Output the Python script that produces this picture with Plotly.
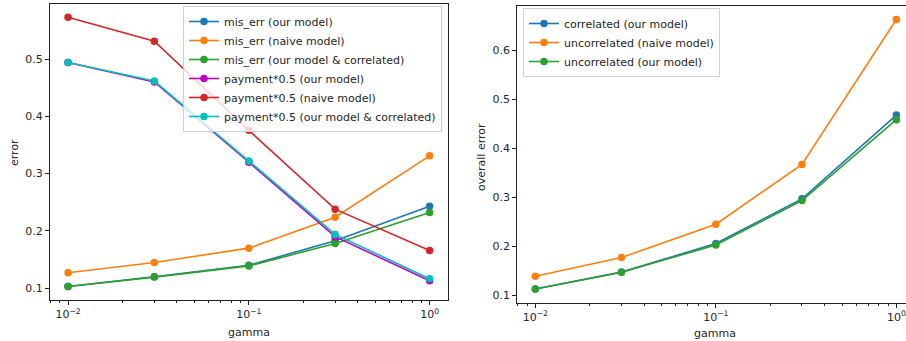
import plotly.graph_objects as go

gamma = [0.01, 0.03, 0.1, 0.3, 1.0]

# left panel
mis_err_our = [0.103, 0.120, 0.140, 0.183, 0.243]
mis_err_naive = [0.127, 0.145, 0.170, 0.224, 0.331]
mis_err_our_corr = [0.103, 0.1195, 0.139, 0.178, 0.232]
pay_our = [0.494, 0.460, 0.320, 0.190, 0.113]
pay_naive = [0.573, 0.531, 0.3755, 0.238, 0.166]
pay_our_corr = [0.494, 0.4616, 0.322, 0.194, 0.1166]

# right panel
corr_our = [0.1136, 0.148, 0.2063, 0.2975, 0.4685]
uncorr_naive = [0.1395, 0.1777, 0.2458, 0.3677, 0.6634]
uncorr_our = [0.1136, 0.1477, 0.2035, 0.2941, 0.459]

left_series = [
    ("mis_err (our model)", mis_err_our, "#1f77b4"),
    ("mis_err (naive model)", mis_err_naive, "#ff7f0e"),
    ("mis_err (our model & correlated)", mis_err_our_corr, "#2ca02c"),
    ("payment*0.5 (our model)", pay_our, "#bf00bf"),
    ("payment*0.5 (naive model)", pay_naive, "#d62728"),
    ("payment*0.5 (our model & correlated)", pay_our_corr, "#00bfbf"),
]
right_series = [
    ("correlated (our model)", corr_our, "#1f77b4"),
    ("uncorrelated (naive model)", uncorr_naive, "#ff7f0e"),
    ("uncorrelated (our model)", uncorr_our, "#2ca02c"),
]

FONT = "DejaVu Sans"
FS = 11
TXT = "#262626"
W, H = 906, 341

fig = go.Figure()
for name, ys, col in left_series:
    fig.add_trace(go.Scatter(x=gamma, y=ys, name=name, mode="lines+markers",
                             line=dict(color=col, width=1.6),
                             marker=dict(color=col, size=7.5),
                             xaxis="x", yaxis="y", legend="legend"))
for name, ys, col in right_series:
    fig.add_trace(go.Scatter(x=gamma, y=ys, name=name, mode="lines+markers",
                             line=dict(color=col, width=1.6),
                             marker=dict(color=col, size=7.5),
                             xaxis="x2", yaxis="y2", legend="legend2"))

xtickvals = [0.01, 0.1, 1]
xticktext = ["10<sup>\u22122</sup>", "10<sup>\u22121</sup>", "10<sup>0</sup>"]

axis_common = dict(showline=True, linecolor="#222", linewidth=1, showgrid=False,
                   zeroline=False, ticks="outside", ticklen=4, tickwidth=1,
                   tickcolor="#222", tickfont=dict(family=FONT, size=FS, color=TXT))

xaxis_common = dict(axis_common, type="log", tickvals=xtickvals, ticktext=xticktext,
                    minor=dict(ticks="outside", ticklen=2, tickwidth=0.7,
                               tickcolor="#222", dtick="D1"))

fig.update_layout(
    width=W, height=H,
    margin=dict(l=0, r=0, t=0, b=0),
    paper_bgcolor="white", plot_bgcolor="white",
    font=dict(family=FONT, size=FS, color=TXT),
    xaxis=dict(xaxis_common, domain=[50 / W, 447.7 / W], range=[-2.1, 0.1],
               anchor="y", mirror=True),
    yaxis=dict(axis_common, domain=[1 - 300 / H, 1 - 4 / H], range=[0.0795, 0.596],
               dtick=0.1, tick0=0.1, tickformat=".1f", anchor="x", mirror=True),
    xaxis2=dict(xaxis_common, domain=[517.3 / W, 1.0], range=[-2.1, 0.0535],
                anchor="y2", mirror=True),
    yaxis2=dict(axis_common, domain=[1 - 302.5 / H, 1 - 6 / H], range=[0.086, 0.691],
                dtick=0.1, tick0=0.1, tickformat=".1f", anchor="x2", mirror=False),
    legend=dict(x=442 / W, y=1 - 6 / H, xanchor="right", yanchor="top",
                bgcolor="rgba(255,255,255,0.8)", bordercolor="#d0d0d0", borderwidth=1,
                font=dict(family=FONT, size=FS, color=TXT)),
    legend2=dict(x=523 / W, y=1 - 8 / H, xanchor="left", yanchor="top",
                 bgcolor="rgba(255,255,255,0.8)", bordercolor="#d0d0d0", borderwidth=1,
                 font=dict(family=FONT, size=FS, color=TXT)),
)

titles = [
    ("gamma", 249 / W, 1 - 332 / H, 0),
    ("gamma", 715 / W, 1 - 333.5 / H, 0),
    ("error", 14 / W, 1 - 153 / H, -90),
    ("overall error", 481 / W, 1 - 157 / H, -90),
]
for text, x, y, ang in titles:
    fig.add_annotation(text=text, x=x, y=y, xref="paper", yref="paper",
                       xanchor="center", yanchor="middle", showarrow=False,
                       textangle=ang, font=dict(family=FONT, size=FS, color=TXT))

fig.write_html("out.html", config={"displayModeBar": False},
               post_script="document.body.style.margin='0';document.body.style.overflow='hidden';")
